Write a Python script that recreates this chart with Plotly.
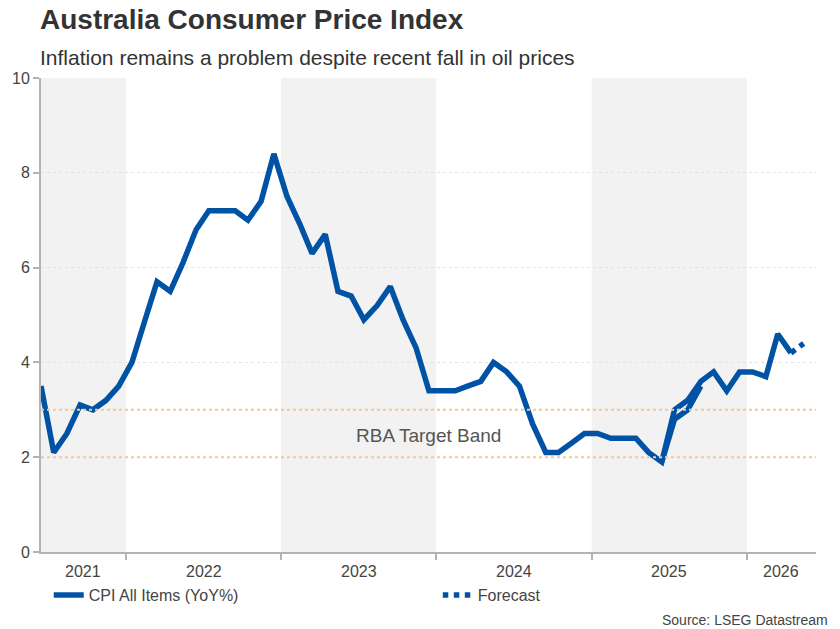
import plotly.graph_objects as go
import pandas as pd

# ---- data ----
cpi_start = "2021-06-15"
cpi_values = [
    3.5, 2.1, 2.5, 3.1, 3.0, 3.2, 3.5,                      # 2021 Jun-Dec
    4.0, 4.9, 5.7, 5.5, 6.1, 6.8, 7.2, 7.2, 7.2, 7.0, 7.4, 8.4,  # 2022
    7.5, 6.9, 6.3, 6.7, 5.5, 5.4, 4.9, 5.2, 5.6, 4.9, 4.3, 3.4,  # 2023
    3.4, 3.4, 3.5, 3.6, 4.0, 3.8, 3.5, 2.7, 2.1, 2.1, 2.3, 2.5,  # 2024
    2.5, 2.4, 2.4, 2.4, 2.1, 1.9, 3.0, 3.2, 3.6, 3.8, 3.4, 3.8,  # 2025
    3.8, 3.7, 4.6, 4.2,                                      # 2026 Jan-Apr
]
prior_start = "2025-06-15"
prior_values = [1.9, 2.8, 3.0, 3.5]          # earlier estimate, Jun-Sep 2025
forecast_start = "2026-04-15"
forecast_values = [4.2, 4.4]
years = [2021, 2022, 2023, 2024, 2025, 2026]
target_band = [2, 3]
y_ticks = [0, 2, 4, 6, 8, 10]

x_min = pd.Timestamp("2021-06-15")
x_max = pd.Timestamp("2026-06-13")

def monthly(start, n):
    return [d + pd.Timedelta(days=14) for d in pd.date_range(pd.Timestamp(start).replace(day=1), periods=n, freq="MS")]

cpi_dates = monthly(cpi_start, len(cpi_values))
prior_dates = monthly(prior_start, len(prior_values))
fc_dates = monthly(forecast_start, len(forecast_values))

BLUE = "#0052a5"
TXT = "#444444"
AX = "#b3b3b3"
FONT = "Liberation Sans, Arial, sans-serif"
LW = 5.5

fig = go.Figure()
fig.add_trace(go.Scatter(x=prior_dates, y=prior_values, mode="lines", showlegend=False,
                         line=dict(color=BLUE, width=LW), hoverinfo="skip"))
fig.add_trace(go.Scatter(x=cpi_dates, y=cpi_values, mode="lines", name="CPI All Items (YoY%)",
                         line=dict(color=BLUE, width=LW), legend="legend"))
fig.add_trace(go.Scatter(x=fc_dates, y=forecast_values, mode="lines", name="Forecast",
                         line=dict(color=BLUE, width=LW, dash="dot"), legend="legend2"))

shapes = []
# alternating year bands
for i, yr in enumerate(years):
    if i % 2 == 0:
        x0 = max(pd.Timestamp(f"{yr}-01-01"), x_min)
        x1 = min(pd.Timestamp(f"{yr+1}-01-01"), x_max)
        shapes.append(dict(type="rect", xref="x", yref="paper", x0=x0, x1=x1, y0=0, y1=1,
                           fillcolor="#f2f2f2", line=dict(width=0), layer="below"))
for v in target_band:
    shapes.append(dict(type="line", xref="paper", yref="y", x0=0, x1=1, y0=v, y1=v,
                       line=dict(color="#fcc68c", width=2, dash="dot"), layer="above"))

annotations = []
for yr in years:
    a = max(pd.Timestamp(f"{yr}-01-01"), x_min)
    b = min(pd.Timestamp(f"{yr+1}-01-01"), x_max)
    annotations.append(dict(x=a + (b - a) / 2, xref="x", y=-0.041, yref="paper", text=str(yr),
                            showarrow=False, yanchor="middle", xanchor="center",
                            font=dict(size=16, color=TXT, family=FONT)))
annotations.append(dict(x=0.5, xref="paper", y=sum(target_band) / 2 - 0.05, yref="y",
                        text="RBA Target Band", showarrow=False,
                        font=dict(size=19, color="#555555", family=FONT)))
annotations.append(dict(x=-0.004, xref="paper", y=1.1224, yref="paper", xanchor="left", yanchor="middle",
                        text="<b>Australia Consumer Price Index</b>", showarrow=False,
                        font=dict(size=28, color="#333333", family=FONT)))
annotations.append(dict(x=-0.004, xref="paper", y=1.0443, yref="paper", xanchor="left", yanchor="middle",
                        text="Inflation remains a problem despite recent fall in oil prices", showarrow=False,
                        font=dict(size=21, color="#333333", family=FONT)))
annotations.append(dict(x=1.018, xref="paper", y=-0.1435, yref="paper", xanchor="right", yanchor="middle",
                        text="Source: LSEG Datastream", showarrow=False,
                        font=dict(size=14, color=TXT, family=FONT)))

leg_common = dict(orientation="h", xanchor="left", y=-0.0907, yanchor="middle",
                  font=dict(size=16, color=TXT, family=FONT), bgcolor="rgba(0,0,0,0)")

fig.update_layout(
    width=840, height=629,
    margin=dict(l=39, r=24, t=78, b=77),
    paper_bgcolor="white", plot_bgcolor="white",
    font=dict(family=FONT, color=TXT, size=16),
    shapes=shapes, annotations=annotations,
    xaxis=dict(range=[x_min, x_max], type="date",
               tickvals=[pd.Timestamp(f"{y}-01-01") for y in years[1:]],
               showticklabels=False, ticks="outside", ticklen=6, tickcolor=AX, tickwidth=2,
               showline=True, linecolor=AX, linewidth=2, showgrid=False, zeroline=False),
    yaxis=dict(range=[0, 10], tickvals=y_ticks, ticks="outside", ticklen=6, tickcolor=AX, tickwidth=2,
               showline=True, linecolor=AX, linewidth=2, showgrid=True, gridcolor="#e3e3e3",
               griddash="dot", gridwidth=1, zeroline=False,
               tickfont=dict(size=16, color=TXT)),
    legend=dict(x=0.010, **leg_common),
    legend2=dict(x=0.512, **leg_common),
    showlegend=True,
)

fig.write_html("out.html")
